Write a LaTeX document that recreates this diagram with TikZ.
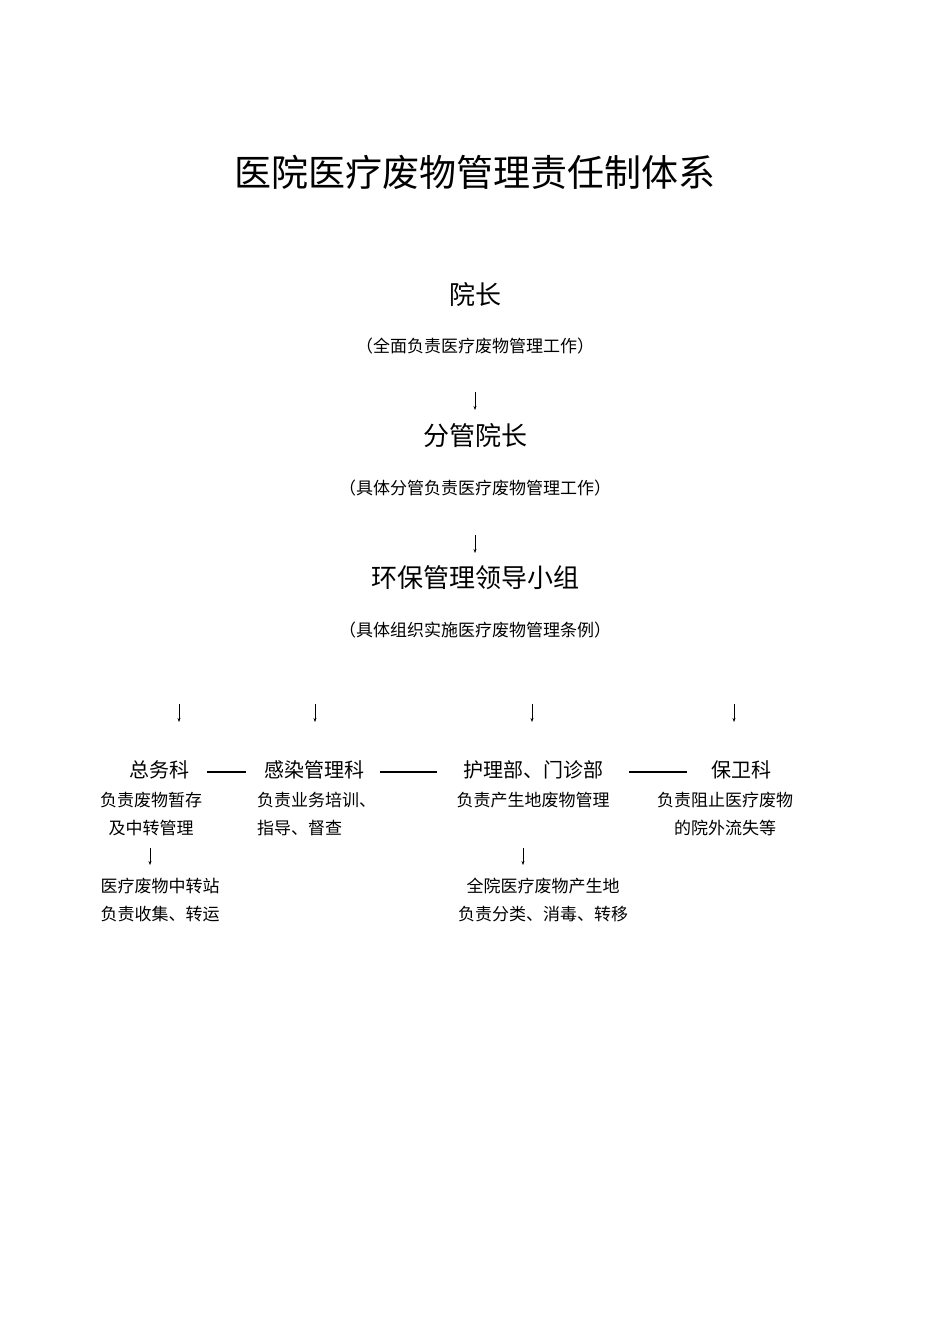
\documentclass[tikz,border=0pt]{standalone}
\usepackage{fontspec}
\usetikzlibrary{arrows.meta}
\setmainfont{Noto Sans CJK SC}
\begin{document}
\begin{tikzpicture}[x=1pt,y=-1pt,
 big/.style={font=\fontsize{26}{28}\selectfont,inner sep=0},
 sm/.style={font=\fontsize{17}{19}\selectfont,inner sep=0},
 dept/.style={font=\fontsize{20}{22}\selectfont,inner sep=0},
 arr/.style={-{Stealth[length=4pt,width=3pt]},line width=0.5pt},
 thick line/.style={line width=2.2pt}]
\useasboundingbox (0,0) rectangle (950,1343);
\node[font=\fontsize{37}{40}\selectfont,inner sep=0] (title) at (475,172) {医院医疗废物管理责任制体系};
\node[big] (a) at (475,295) {院长};
\node[sm] (ad) at (475,346) {（全面负责医疗废物管理工作）};
\node[big] (b) at (475,436) {分管院长};
\node[sm] (bd) at (475,488) {（具体分管负责医疗废物管理工作）};
\node[big] (c) at (475,578) {环保管理领导小组};
\node[sm] (cd) at (475,630) {（具体组织实施医疗废物管理条例）};
\coordinate (a1) at (475,392); \coordinate (a2) at (475,410);
\draw[arr] (a1) -- (a2);
\coordinate (b1) at (475,535); \coordinate (b2) at (475,553);
\draw[arr] (b1) -- (b2);
\foreach \x/\n in {179/p,315/q,532/r,734/s}{
 \coordinate (\n1) at (\x,704); \coordinate (\n2) at (\x,722);
 \draw[arr] (\n1) -- (\n2);}
\node[dept] (d1) at (159,770) {总务科};
\node[dept] (d2) at (314,770) {感染管理科};
\node[dept] (d3) at (533,770) {护理部、门诊部};
\node[dept] (d4) at (741,770) {保卫科};
\coordinate (l1a) at (207,772); \coordinate (l1b) at (246,772);
\coordinate (l2a) at (380,772); \coordinate (l2b) at (437,772);
\coordinate (l3a) at (629,772); \coordinate (l3b) at (687,772);
\draw[thick line] (l1a) -- (l1b);
\draw[thick line] (l2a) -- (l2b);
\draw[thick line] (l3a) -- (l3b);
\node[sm] (e1) at (151,800) {负责废物暂存};
\node[sm] (e1b) at (151,828) {及中转管理};
\node[sm,anchor=west] (e2) at (257,800) {负责业务培训、};
\node[sm,anchor=west] (e2b) at (257,828) {指导、督查};
\node[sm] (e3) at (533,800) {负责产生地废物管理};
\node[sm] (e4) at (725,800) {负责阻止医疗废物};
\node[sm] (e4b) at (725,828) {的院外流失等};
\coordinate (t1) at (150,848); \coordinate (t2) at (150,865);
\draw[arr] (t1) -- (t2);
\coordinate (u1) at (523,848); \coordinate (u2) at (523,865);
\draw[arr] (u1) -- (u2);
\node[sm] (f1) at (160,886) {医疗废物中转站};
\node[sm] (f1b) at (160,914) {负责收集、转运};
\node[sm] (f3) at (543,886) {全院医疗废物产生地};
\node[sm] (f3b) at (543,914) {负责分类、消毒、转移};
\end{tikzpicture}
\end{document}
